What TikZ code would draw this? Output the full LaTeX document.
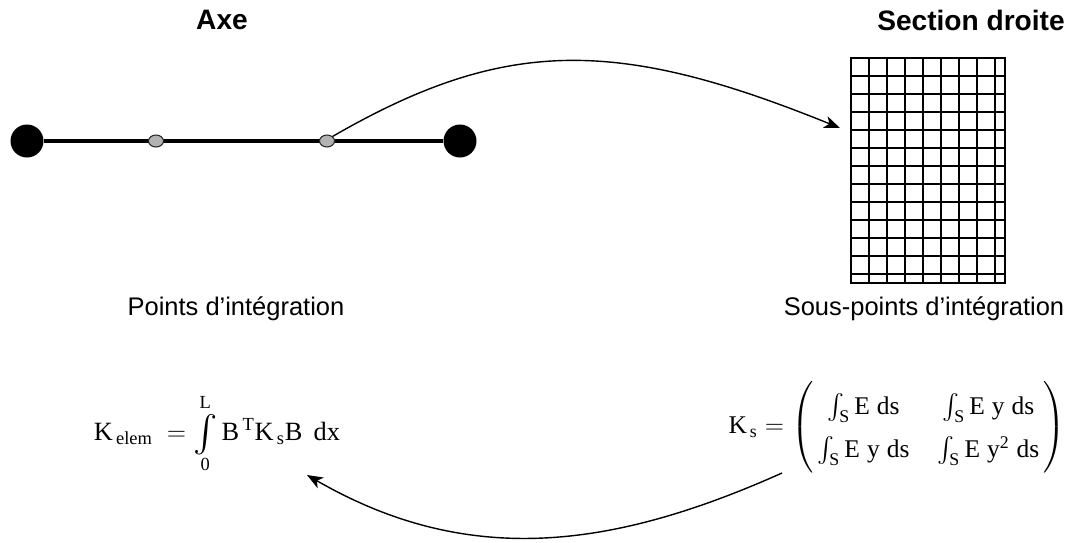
\documentclass[tikz,border=0pt]{standalone}
\usepackage{amsmath}
\usepackage{fontspec}
\setmainfont{Liberation Sans}
\newfontfamily\tms{Liberation Serif}
\usetikzlibrary{arrows.meta,shapes.geometric}
\newcommand\tx[1]{\text{\tms #1}}
\newcommand\grandint{\mathop{\vcenter{\hbox{\fontsize{21}{21}\selectfont$\int$}}}\limits}

\begin{document}
\begin{tikzpicture}[x=0.02cm,y=-0.02cm,
  noeud/.style={circle,fill=black,inner sep=0pt,minimum size=0.66cm},
  gauss/.style={ellipse,draw=black!85,fill=black!30,line width=0.6pt,inner sep=0pt,minimum width=0.3cm,minimum height=0.24cm},
  barre/.style={line width=2.3pt},
  grille/.style={line width=1.2pt},
  titre/.style={font=\fontsize{16}{19}\selectfont\bfseries},
  legende/.style={font=\fontsize{14.5}{17}\selectfont},
  formule/.style={font=\fontsize{15}{18}\selectfont,inner sep=0pt},
  fleche/.style={line width=0.8pt,-{Stealth[length=9pt,width=7pt,inset=2.5pt]}}]
\useasboundingbox (0,0) rectangle (1070,542);

\node[titre] (axe) at (222,20) {Axe};
\node[titre] (section) at (971,20) {Section droite};

\node[noeud] (n1) at (27,141) {};
\node[noeud] (n2) at (460,141) {};
\draw[barre] (n1) -- (n2);
\node[gauss] (g1) at (156,141) {};
\node[gauss] (g2) at (327,141) {};

\draw[grille,line width=1.4pt] (851,58) rectangle (1005,283);
\foreach \i in {1,...,8}
  \draw[grille] (851+18*\i,58) -- (851+18*\i,283);
\foreach \j in {1,...,12}
  \draw[grille] (851,58+18*\j) -- (1005,58+18*\j);

\node[legende] (pts) at (236,309) {Points d’intégration};
\node[legende] (spts) at (924,309) {Sous-points d’intégration};

\node[formule] (kelem) at (217,434)
  {$\tx{K}_{\,\tx{elem}}\;=\grandint_{\tx{0}}^{\tx{L}}\tx{B}^{\,\tx{T}}\tx{K}_{\,\tx{s}}\tx{B}\;\,\tx{dx}$};
\node[formule,font=\fontsize{14.5}{17}\selectfont,anchor=east] (ks) at (1066,427)
  {$\tx{K}_{\,\tx{s}}=\left(\renewcommand\arraystretch{1.45}\setlength\arraycolsep{8pt}\begin{array}{@{\,}cc@{\,}}
     \int_{\tx{S}}\tx{E}\;\tx{ds} & \int_{\tx{S}}\tx{E}\;\tx{y}\;\tx{ds}\\
     \int_{\tx{S}}\tx{E}\;\tx{y}\;\tx{ds} & \int_{\tx{S}}\tx{E}\;\tx{y}^{\tx{2}}\;\tx{ds}
   \end{array}\right)$};

\coordinate (cible) at (840,128);
\coordinate (depart) at (782,473);
\coordinate (arrivee) at (307,475);

\draw[fleche] (g2.north east) .. controls +(173,-100) and +(-222,-90) .. (cible);
\draw[fleche] (depart) .. controls +(-170,76) and +(161,93) .. (arrivee);
\end{tikzpicture}
\end{document}
